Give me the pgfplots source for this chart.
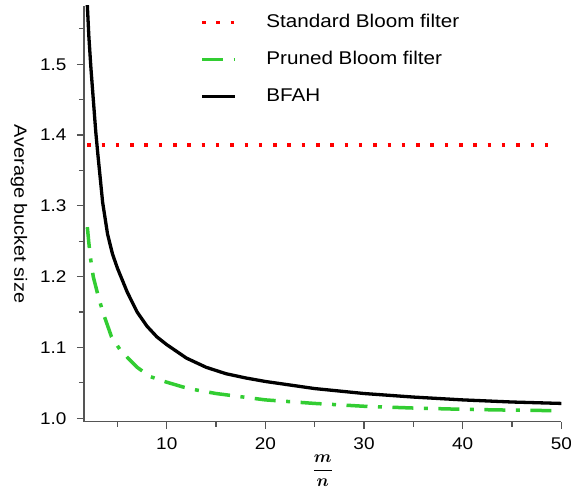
\documentclass[border=0pt]{standalone}
\usepackage{amsmath}
\usepackage{fontspec}
\setmainfont{Liberation Sans}[FakeStretch=1.12]
\usepackage{pgfplots}
\usepackage{pgfplotstable}
\pgfplotsset{compat=1.18}

\definecolor{sbred}{RGB}{255,0,0}
\definecolor{pbgreen}{RGB}{50,205,50}
\definecolor{axgray}{RGB}{85,85,85}

% BFAH
\pgfplotstableread{
x y
1.90 1.600
1.95 1.583
2.10 1.540
2.30 1.497
2.50 1.460
2.80 1.405
3.00 1.375
3.50 1.305
4.00 1.260
4.50 1.232
5.00 1.212
5.50 1.195
6.00 1.178
7.00 1.150
8.00 1.130
9.00 1.115
10.0 1.104
12.0 1.085
14.0 1.072
16.0 1.063
18.0 1.057
20.0 1.052
25.0 1.042
30.0 1.035
35.0 1.030
40.0 1.026
45.0 1.023
50.0 1.021
}\bfah

% pruned Bloom filter
\pgfplotstableread{
x y
1.95 1.270
2.10 1.248
2.25 1.228
2.55 1.200
3.06 1.172
3.57 1.148
4.40 1.115
5.26 1.097
6.28 1.082
7.00 1.072
8.30 1.059
10.0 1.051
11.7 1.044
13.0 1.040
15.0 1.035
20.0 1.026
25.0 1.021
30.0 1.017
35.0 1.0145
40.0 1.0127
45.0 1.0115
50.0 1.0107
}\pruned

\begin{document}
\begin{tikzpicture}
\path[use as bounding box] (-84bp,-67.3bp) rectangle (487bp,421.7bp);
\begin{axis}[
  scale only axis, width=477.3bp, height=415.7bp,
  xmin=1.61, xmax=50, ymin=0.9952, ymax=1.5823,
  axis lines*=left,
  axis line style={draw=axgray, line width=1.2bp},
  tick align=outside,
  major tick length=7bp,
  every tick/.style={draw=axgray, line width=1.2bp},
  xtick={10,20,30,40,50},
  ytick={1.0,1.1,1.2,1.3,1.4,1.5},
  extra x ticks={5,15,25,35,45}, extra x tick labels={},
  extra y ticks={1.05,1.15,1.25,1.35,1.45,1.55}, extra y tick labels={},
  extra tick style={major tick length=5bp},
  /pgf/number format/assume math mode=true,
  ticklabel style={font=\fontsize{17}{20}\selectfont},
  yticklabel style={xshift=-7bp, /pgf/number format/.cd, fixed, fixed zerofill, precision=1},
  xticklabel style={yshift=-5bp},
  ylabel={Average bucket size},
  ylabel style={at={(axis description cs:-0.1362,0.5)}, anchor=center,
    rotate=180, font=\fontsize{17.8}{20}\selectfont},
  xlabel={$\displaystyle\frac{\boldsymbol{m}}{\boldsymbol{n}}$},
  xlabel style={at={(axis description cs:0.5,0)}, anchor=center, yshift=-49bp,
    font=\fontsize{19}{22}\selectfont},
  legend image code/.code={\draw[#1] (0bp,0bp) -- (33bp,0bp);},
  legend cell align=left,
  legend style={draw=none, fill=none, at={(axis description cs:0.2432,0.981)},
    anchor=north west, inner sep=0pt, row sep=20bp, column sep=29.7bp,
    font=\fontsize{18.5}{22}\selectfont,
    nodes={inner sep=0pt, text height=13bp, text depth=4bp}},
]
\addplot[sbred, line width=3.5bp, dash pattern=on 3.5bp off 10.8bp]
  coordinates {(1.94,1.386) (49.6,1.386)};
\addlegendentry{Standard Bloom filter}
\addplot[pbgreen, line width=3.5bp, dash pattern=on 21bp off 10.5bp on 4bp off 10.5bp]
  table {\pruned};
\addlegendentry{Pruned Bloom filter}
\addplot[black, line width=3.3bp] table {\bfah};
\addlegendentry{BFAH}
\end{axis}
\end{tikzpicture}
\end{document}
